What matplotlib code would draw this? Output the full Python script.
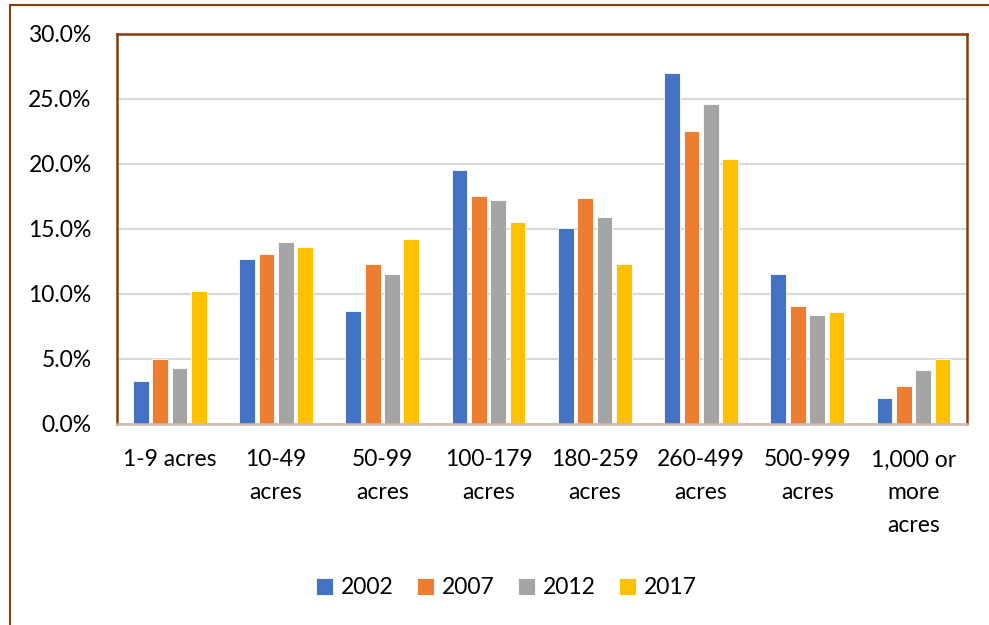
import numpy as np
import matplotlib.pyplot as plt
from matplotlib.patches import Rectangle
from matplotlib.ticker import FuncFormatter

plt.rcParams['font.family'] = ['Lato', 'DejaVu Sans']

categories = ['1-9 acres', '10-49\nacres', '50-99\nacres', '100-179\nacres',
              '180-259\nacres', '260-499\nacres', '500-999\nacres', '1,000 or\nmore\nacres']
years = ['2002', '2007', '2012', '2017']
v2002 = [3.3, 12.7, 8.7, 19.5, 15.1, 27.0, 11.5, 2.0]
v2007 = [5.0, 13.1, 12.3, 17.5, 17.4, 22.5, 9.1, 2.9]
v2012 = [4.3, 14.0, 11.5, 17.2, 15.9, 24.6, 8.4, 4.1]
v2017 = [10.2, 13.6, 14.2, 15.5, 12.3, 20.4, 8.6, 5.0]
series = [v2002, v2007, v2012, v2017]
colors = ['#4472C4', '#ED7D31', '#A5A5A5', '#FFC000']

brown = '#843C0C'
fs = 16.5

fig = plt.figure(figsize=(9.89, 6.25), dpi=100)
ax = fig.add_axes([0.118, 0.322, 0.8595, 0.6236])

x = np.arange(len(categories))
slot = 0.182
width = 0.148
for i, (vals, c) in enumerate(zip(series, colors)):
    ax.bar(x + (i - 1.5) * slot, vals, width, color=c, label=years[i],
           edgecolor='white', linewidth=0.6, zorder=3)

ax.set_xlim(-0.5, len(categories) - 0.5)
ax.set_ylim(0, 30)
ax.set_yticks(np.arange(0, 31, 5))
ax.yaxis.set_major_formatter(FuncFormatter(lambda v, p: '%.1f%%' % v))
ax.set_xticks(x)
ax.set_xticklabels(categories, linespacing=1.68)
ax.tick_params(axis='both', length=0, labelsize=fs, colors='black')
ax.tick_params(axis='y', pad=18)
ax.tick_params(axis='x', pad=18.5)
ax.grid(axis='y', color='#D9D9D9', linewidth=1.5, zorder=0)

for s in ['left', 'top', 'right']:
    ax.spines[s].set_color(brown)
    ax.spines[s].set_linewidth(1.8)
ax.spines['bottom'].set_color('#D2B8A8')
ax.spines['bottom'].set_linewidth(1.8)
ax.spines['bottom'].set_zorder(4)

# outer chart border
fig.patches.append(Rectangle((10 / 989, -0.05), 1.1, 1 - 5 / 625 + 0.05,
                             transform=fig.transFigure, fill=False,
                             edgecolor=brown, linewidth=1.5))

fig.legend(loc='center', bbox_to_anchor=(0.512, 1 - 588 / 625), ncol=4,
           frameon=False, fontsize=fs, handlelength=0.75, handleheight=0.75,
           handletextpad=0.35, columnspacing=1.0)

fig.savefig('out.png', dpi=100)
